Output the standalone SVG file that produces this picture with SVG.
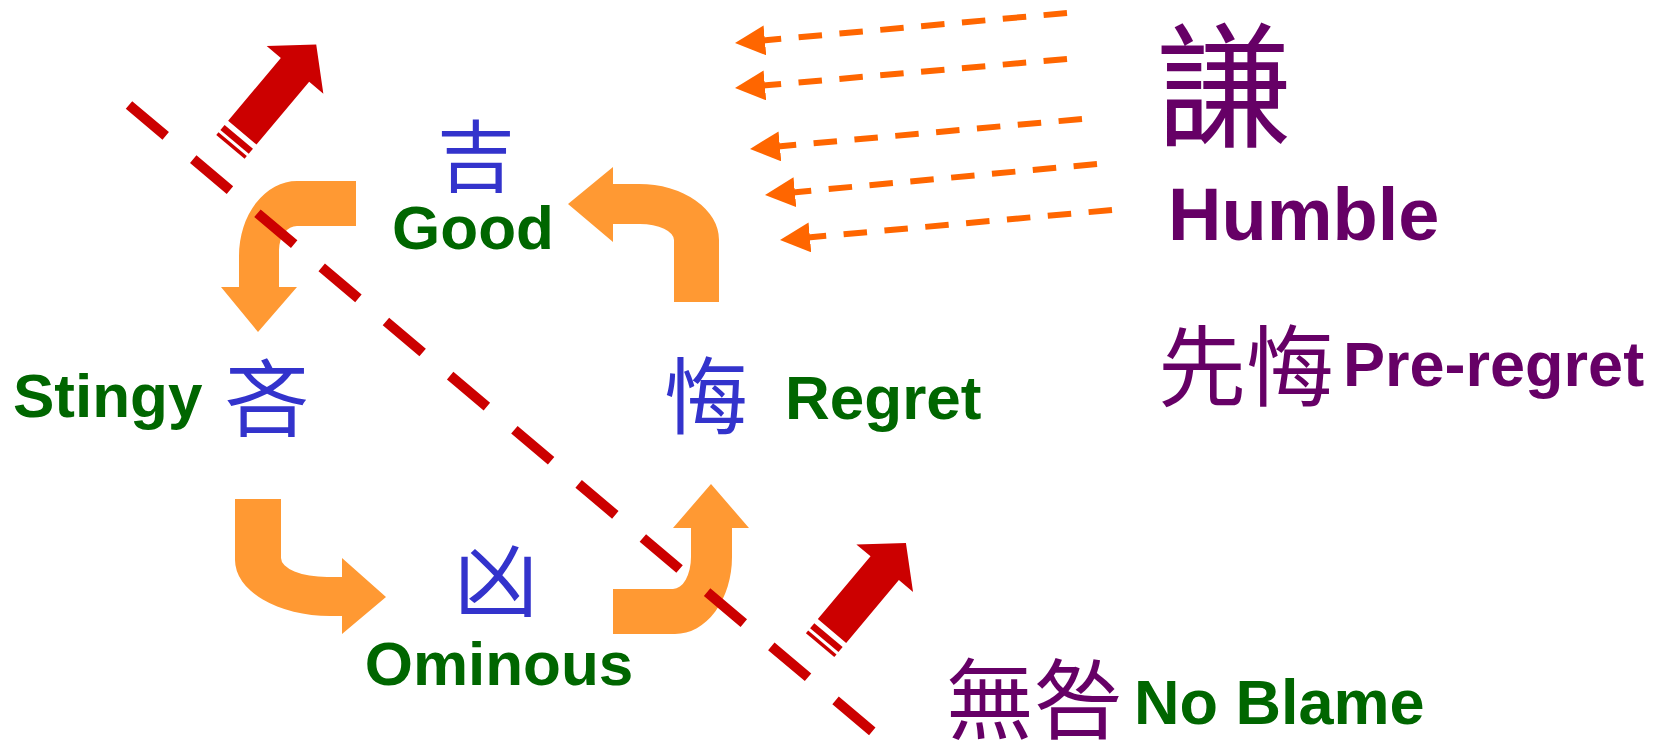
<svg xmlns="http://www.w3.org/2000/svg" xmlns:xlink="http://www.w3.org/1999/xlink" width="1669" height="756" viewBox="0 0 1669 756">
<style>
.cn{font-family:"Noto Sans CJK TC","Noto Sans CJK SC",sans-serif;}
.en{font-family:"Liberation Sans",Arial,sans-serif;font-weight:bold;}
.blue{fill:#3333CC;}
.green{fill:#006600;}
.purple{fill:#660066;}
.curve{fill:#FF9933;}
.odash{fill:none;stroke:#FF6600;stroke-width:6;stroke-dasharray:23.5 17.5;marker-end:url(#ohead);}
.red{fill:#CC0000;}
</style>
<defs>
<marker id="ohead" markerUnits="userSpaceOnUse" viewBox="0 -15 30 30" refX="2" refY="0" markerWidth="30" markerHeight="30" orient="auto">
<path d="M0,-15 L30,0 L0,15 Z" fill="#FF6600"/>
</marker>
<g id="stripedArrow">
<path d="M0,-18.5 L82,-18.5 L82,-37 L115,0 L82,37 L82,18.5 L0,18.5 Z"/>
<rect x="-12" y="-18.5" width="6.5" height="37"/>
<rect x="-18.5" y="-18.5" width="3.5" height="37"/>
</g>
</defs>
<rect width="1669" height="756" fill="#FFFFFF"/>

<g id="cycle-arrows">
<path class="curve" d="M356,181 L297,181 A58,75 0 0 0 239,256 L239,287 L221,287 L258,332 L297,287 L279,287 L279,250 A18,24 0 0 1 297,226 L356,226 Z"/>
<path class="curve" d="M613,167 L568,204 L613,242 L613,224 L640,224 A34,16 0 0 1 674,240 L674,302 L719,302 L719,240 A80,56 0 0 0 639,184 L613,184 Z"/>
<path class="curve" d="M235,499 L235,560 A95,56 0 0 0 330,616 L342,616 L342,634 L386,597 L342,558 L342,577 L327,577 A46,19 0 0 1 281,558 L281,499 Z"/>
<path class="curve" d="M613,589 L673,589 A18,32 0 0 0 691,557 L691,528 L673,528 L711,484 L749,528 L732,528 L732,557 A57,77 0 0 1 675,634 L613,634 Z"/>
</g>

<g id="connectors">
<line x1="129" y1="105" x2="873" y2="732" stroke="#CC0000" stroke-width="10" stroke-dasharray="48 36"/>
<g class="red">
<use xlink:href="#stripedArrow" transform="translate(242.3,132.7) rotate(-50)"/>
<use xlink:href="#stripedArrow" transform="translate(832,631) rotate(-50)"/>
</g>
<line class="odash" x1="1067" y1="13" x2="762.9" y2="40.5"/>
<line class="odash" x1="1067" y1="59" x2="762.9" y2="85.6"/>
<line class="odash" x1="1082" y1="119" x2="777.9" y2="146.5"/>
<line class="odash" x1="1097" y1="164" x2="792.9" y2="192.4"/>
<line class="odash" x1="1112" y1="210" x2="807.9" y2="237.5"/>
</g>

<g id="node-good">
<text class="cn blue" x="476" y="186" font-size="78" text-anchor="middle">吉</text>
<text class="en green" x="473" y="249" font-size="62" text-anchor="middle">Good</text>
</g>
<g id="node-stingy">
<text class="en green" x="13" y="417" font-size="62">Stingy</text>
<text class="cn blue" x="267" y="430" font-size="84" text-anchor="middle">吝</text>
</g>
<g id="node-regret">
<text class="cn blue" x="706" y="428" font-size="84" text-anchor="middle">悔</text>
<text class="en green" x="785" y="419" font-size="62">Regret</text>
</g>
<g id="node-ominous">
<text class="cn blue" x="496" y="611" font-size="84" text-anchor="middle">凶</text>
<text class="en green" x="499" y="685" font-size="62" text-anchor="middle">Ominous</text>
</g>
<g id="node-humble">
<text class="cn purple" x="1224" y="137" font-size="136" text-anchor="middle">謙</text>
<text class="en purple" x="1168" y="240" font-size="74">Humble</text>
</g>
<g id="node-preregret">
<text class="cn purple" x="1158" y="399" font-size="88">先悔</text>
<text class="en purple" x="1343" y="386" font-size="63">Pre-regret</text>
</g>
<g id="node-noblame">
<text class="cn purple" x="946" y="732" font-size="88">無咎</text>
<text class="en green" x="1134" y="724" font-size="63">No Blame</text>
</g>
</svg>
